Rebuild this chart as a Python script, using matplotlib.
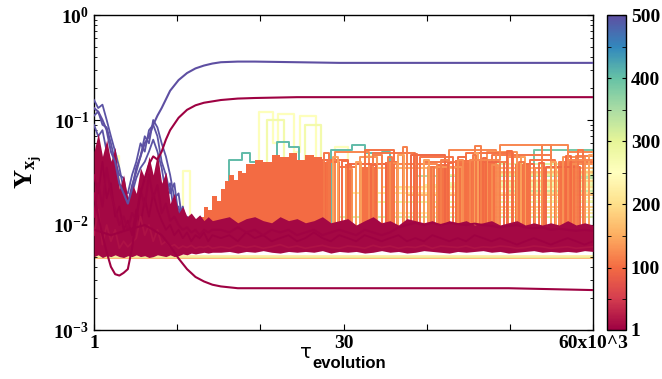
import numpy as np
import matplotlib
matplotlib.use("Agg")
import matplotlib.pyplot as plt
from matplotlib import colors as mcolors
from matplotlib import cm, ticker

plt.rcParams['font.family'] = 'Liberation Serif'
plt.rcParams['font.weight'] = 'bold'
plt.rcParams['mathtext.fontset'] = 'custom'
plt.rcParams['mathtext.rm'] = 'Liberation Serif:bold'
plt.rcParams['mathtext.it'] = 'Liberation Serif:bold'
plt.rcParams['mathtext.bf'] = 'Liberation Serif:bold'

# ---- data (y values in units of 1e-3 unless noted) ----
# dense crimson band, sampled every 0.5 up to 15 then every 1
band_top = [50, 75, 45, 65, 40, 55, 22, 30, 18, 25, 20, 35, 28, 45, 30,
            48, 25, 32, 16, 20, 13, 15, 12, 13, 11.5, 12.5, 11, 12, 11,
            11.5, 12, 10.5, 11.5, 12, 11, 10.5, 12, 11, 11.5,
            10.5, 11, 12, 10.5, 11, 11.5, 10, 11, 12, 10.5,
            11, 10, 11.5, 11, 10.5, 11, 10, 11, 10.5, 11,
            10, 10.5, 11, 10, 10.5, 11, 10, 10.5, 10, 10.5,
            10, 11, 10, 10.5, 10]
band_lo = [5.0, 5.2, 4.9, 5.1, 5.0, 5.2, 5.0, 4.9, 5.1, 5.0, 5.2, 5.0, 5.1, 4.9, 5.0,
           5.2, 5.1, 5.0, 5.2, 5.0, 5.1, 5.3, 5.2, 5.4, 5.3, 5.4, 5.5, 5.4, 5.5,
           5.5, 5.6, 5.4, 5.6, 5.5, 5.7, 5.5, 5.4, 5.6, 5.5,
           5.6, 5.5, 5.7, 5.4, 5.6, 5.5, 5.6, 5.4, 5.5, 5.7,
           5.5, 5.6, 5.4, 5.5, 5.7, 5.6, 5.5, 5.4, 5.6, 5.5,
           5.6, 5.7, 5.5, 5.6, 5.4, 5.5, 5.6, 5.7, 5.5, 5.6,
           5.5, 5.6, 5.5, 5.7, 5.6]
core1 = [30, 20, 40, 18, 25, 12, 15, 9, 11, 8, 14, 10, 18, 12, 20,
         14, 11, 9, 10, 8, 9, 7.5, 8.5, 7, 8, 7.5, 8.5, 7, 8,
         7.5, 8, 7, 8.5, 7.5, 8, 7, 7.5, 8, 7,
         7.5, 8.5, 7.5, 7, 8, 7.5, 7, 8, 7.5, 7,
         7.5, 8, 7, 7.5, 7, 8, 7.5, 7, 7.5, 7,
         8, 7.5, 7, 7.5, 7, 6.5, 7, 7.5, 7, 6.5,
         7, 7.5, 7, 6.5, 7]
core2 = [12, 25, 15, 35, 20, 14, 10, 12, 9, 13, 11, 22, 15, 30, 18,
         24, 13, 16, 11, 12, 10, 9, 9.5, 8.5, 9, 8, 9, 8.5, 9,
         9, 8.5, 9.5, 8.5, 9, 8, 9, 8.5, 9, 8,
         8.5, 9, 8, 8.5, 9, 8.5, 8, 9, 8.5, 8,
         8.5, 9.5, 10, 10.5, 10, 10.5, 10, 10.5, 10.2, 10,
         10.3, 10, 9.8, 9.5, 9.8, 10, 9.5, 9.3, 9.5, 9,
         9.2, 9, 8.8, 9, 8.8]
core3 = [8, 14, 6.5, 10, 7, 9, 6, 7, 6.2, 6.8, 7.5, 12, 8, 10, 7,
         9, 6.5, 7, 6.2, 6.5, 6, 6.3, 6.1, 6.4, 6, 6.2, 6.1, 6.3, 6,
         6.2, 6, 6.4, 6.1, 6.3, 6, 6.2, 6.5, 6.1, 6.3,
         6, 6.2, 6.4, 6.1, 6, 6.3, 6.2, 6, 6.4, 6.1,
         6.3, 6, 6.2, 6.1, 6.4, 6, 6.3, 6.2, 6.1, 6.3,
         6, 6.2, 6.1, 6.3, 6.2, 6, 6.1, 6.3, 6.2, 6,
         6.1, 6.2, 6, 6.1, 6.2]

# solid orange blocks (step tops)
ofill_x = [13, 13.5, 14, 14.5, 15, 15.5, 16, 16.5, 17, 17.5, 18, 18.5, 19,
           20, 21, 22, 23, 24, 25, 26, 27, 28, 29]
ofill_top = [10, 12, 15, 14, 19, 17, 22, 26, 30, 27, 33, 31, 38,
             42, 40, 46, 44, 48, 42, 46, 44, 40, 42]
ofill2_x = [29, 30.7, 31.5, 32.4, 34.2, 35.4, 36.6, 41.5, 43.1, 43.7, 45.4, 48.4,
            50.8, 52.5, 56.1, 57.9, 60]
ofill2_top = [8, 38, 8, 36, 8, 40, 8, 38, 8, 42, 40, 8, 38, 8, 40, 8, 8]

# orange switching trajectories: switch times and levels
orange_t = [
    [13, 28, 31, 36, 37, 44, 45, 52, 53, 60],
    [13, 30, 32, 34, 39, 40, 47, 48, 55, 56, 60],
    [13, 29.5, 33.5, 35, 41.5, 43, 48.5, 50, 51.5, 57, 60],
    [13, 31, 35.5, 38.5, 42.5, 46.5, 49.5, 54.5, 58.5, 60],
    [13, 32.5, 34.5, 40.5, 44.5, 47.5, 51, 56.5, 59, 60],
    [13, 28.5, 30, 33, 36.5, 39.5, 43.5, 45, 50.5, 52.5, 55.5, 60],
    [13, 34, 35, 37.5, 38, 42, 43, 46, 46.8, 49, 50, 54, 55, 58, 60],
    [13, 30.8, 31.5, 36, 36.8, 41, 41.6, 44, 44.6, 48, 48.8, 53.2, 54, 57.5, 60],
    [13, 29.2, 29.8, 32, 32.6, 37, 37.6, 40, 40.6, 46, 46.4, 51.5, 52, 55, 55.6, 59.5, 60],
    [13, 30.3, 31, 33.8, 34.4, 38.8, 39.2, 42.8, 43.4, 47, 47.4, 49.8, 50.4, 53.6, 54.2,
     56.8, 57.4, 60],
    [13, 28.2, 28.8, 35.8, 36.2, 40.8, 41.2, 45.8, 46.2, 51.2, 51.8, 58.2, 58.8, 60],
    [13, 45.5, 49, 57, 60],
]
orange_v = [
    [8, 42, 8, 40, 9, 44, 8, 38, 8, 8],
    [9, 36, 9, 48, 9, 40, 8, 46, 9, 40, 40],
    [8, 50, 8, 38, 8, 52, 9, 44, 8, 50, 50],
    [9, 38, 9, 46, 9, 40, 8, 36, 9, 9],
    [8, 44, 8, 36, 8, 50, 8, 44, 8, 8],
    [8, 40, 8, 52, 8, 44, 8, 48, 8, 42, 8, 8],
    [8, 46, 8, 55, 8, 42, 8, 56, 8, 40, 8, 58, 8, 45, 45],
    [9, 34, 9, 39, 9, 36, 9, 42, 9, 37, 9, 35, 9, 38, 38],
    [8, 44, 8, 40, 8, 46, 8, 42, 8, 48, 8, 44, 8, 40, 8, 46, 46],
    [9, 41, 9, 37, 9, 47, 9, 39, 9, 43, 9, 51, 9, 39, 9, 45, 9, 9],
    [8, 48, 8, 44, 8, 36, 8, 46, 8, 40, 8, 52, 8, 8],
    [8, 42, 58, 42, 42],
]
orange_c = [100, 110, 120, 95, 130, 105, 115, 125, 140, 100, 110, 120]

yellow_t = [[1, 3.2, 3.9, 11.5, 12.3, 20.5, 22.2, 22.8, 24.6, 25.4, 27.2, 28, 29.5, 31, 60],
            [1, 21.5, 23.5, 26, 27.8, 33, 34.5, 60]]
yellow_v = [[6, 45, 6, 33, 6, 120, 60, 115, 50, 110, 30, 8, 55, 8, 8],
            [6, 100, 20, 90, 8, 45, 8, 8]]
yellow_c = [255, 275]

teal_t = [[1, 17, 18.5, 19.5, 20.3, 22.6, 24, 25.2, 29, 31.5, 33, 35, 36, 60],
          [1, 53, 60]]
teal_v = [[6, 42, 48, 40, 8, 62, 55, 8, 52, 58, 48, 50, 8, 8],
          [6, 52, 52]]
teal_c = [405, 390]

# pale plateau lines on the right
light_level = [13, 15, 16.5, 18, 19.5, 21, 23, 25, 27, 29, 31, 33, 35, 38, 14, 17, 20, 24,
               28, 32, 12, 22, 26, 30]
light_start = [36, 41, 34, 45, 38, 50, 35, 43, 52, 39, 47, 55, 33, 48, 44, 53, 31, 40,
               57, 46, 30, 37, 49, 42]
light_val = [220, 180, 300, 250, 160, 330, 200, 280, 240, 350, 190, 260, 150, 310, 230,
             270, 210, 290, 340, 170, 320, 245, 185, 300]
bottom_level = [4.85, 5.0, 5.1]
bottom_val = [150, 300, 220]

# purple (high rank) trajectories, absolute values
purple_x = [1, 1.5, 2, 2.5, 3, 3.5, 4, 4.5, 5, 5.5, 6, 6.5, 7, 7.5, 8, 8.5, 9, 9.5,
            10, 10.5, 11, 11.5, 12, 12.5, 13]
purple_a = [0.155, 0.13, 0.14, 0.10, 0.07, 0.05, 0.035, 0.022, 0.02, 0.03, 0.04, 0.06, 0.05,
            0.08, 0.09, 0.07, 0.04, 0.03, 0.02, 0.025, 0.012, 0.015, 0.009, 0.01, 0.008]
purple_b = [0.11, 0.12, 0.09, 0.085, 0.06, 0.04, 0.03, 0.028, 0.016, 0.024, 0.032, 0.045, 0.07,
            0.06, 0.1, 0.085, 0.06, 0.045, 0.03, 0.018, 0.02, 0.01, 0.012, 0.008, 0.008]
purple_c = [0.09, 0.07, 0.08, 0.05, 0.04, 0.03, 0.018, 0.025, 0.014, 0.02, 0.028, 0.035, 0.04,
            0.05, 0.065, 0.05, 0.035, 0.02, 0.025, 0.012, 0.015, 0.009, 0.01, 0.008, 0.008]
pmain_x = [1, 1.5, 2, 2.5, 3, 3.5, 4, 4.5, 5, 5.5, 6, 6.5, 7, 7.5, 8, 8.5, 9, 10, 11, 12,
           13, 14, 15, 16, 18, 20, 25, 30, 40, 50, 60]
pmain_y = [0.13, 0.12, 0.10, 0.08, 0.05, 0.04, 0.025, 0.02, 0.016, 0.022, 0.035, 0.045, 0.06,
           0.07, 0.09, 0.11, 0.13, 0.19, 0.24, 0.28, 0.31, 0.33, 0.345, 0.355, 0.36, 0.36,
           0.355, 0.35, 0.35, 0.35, 0.35]

# crimson outliers
rup_x = [1, 1.5, 2, 2.5, 3, 3.5, 4, 4.5, 5, 5.5, 6, 6.5, 7, 7.5, 8, 8.5, 9, 9.5, 10, 11, 12,
         13, 14, 16, 18, 20, 25, 30, 40, 50, 60]
rup_y = [0.02, 0.012, 0.008, 0.0055, 0.004, 0.0034, 0.0033, 0.0035, 0.0038, 0.006, 0.012,
         0.02, 0.028, 0.038, 0.045, 0.042, 0.05, 0.065, 0.08, 0.105, 0.125, 0.138, 0.146,
         0.155, 0.16, 0.162, 0.165, 0.165, 0.165, 0.165, 0.165]
rdn_x = [1, 3, 5, 7, 8, 9, 10, 11, 12, 13, 14, 15, 16, 18, 20, 25, 30, 40, 50, 60]
rdn_y = [0.009, 0.008, 0.009, 0.01, 0.009, 0.008, 0.0063, 0.0048, 0.0038, 0.0032, 0.0029,
         0.0027, 0.0026, 0.0025, 0.0025, 0.0025, 0.0025, 0.0025, 0.0025, 0.0024]

xtick_labels = ['1', '', '', '30', '', '', '60x10^3']
ytick_labels = [r'$10^{-3}$', r'$10^{-2}$', r'$10^{-1}$', r'$10^{0}$']
cbar_ticks = [1, 100, 200, 300, 400, 500]

e3 = 1e-3
cmap = plt.get_cmap('Spectral')
norm = mcolors.Normalize(1, 500)


def col(v):
    return cmap(norm(v))


fig = plt.figure(figsize=(6.62, 3.79), dpi=100)
ax = fig.add_axes([94 / 662, 49 / 379, 499 / 662, 315 / 379])
cax = fig.add_axes([607 / 662, 49 / 379, 19 / 662, 315 / 379])

x_band = np.concatenate([np.arange(1, 15.5, 0.5), np.arange(16, 61)])

# pale lines underneath
ax.hlines(np.array(light_level) * e3, light_start, 60, colors=[col(v) for v in light_val],
          lw=1.3, zorder=1)
for lvl, v in zip(bottom_level, bottom_val):
    ax.plot([1, 60], [lvl * e3, lvl * e3], color=col(v), lw=1.2, zorder=1)

for t, v, c in zip(yellow_t, yellow_v, yellow_c):
    ax.plot(t, np.array(v) * e3, drawstyle='steps-post', color=col(c), lw=1.6, zorder=2)
for t, v, c in zip(teal_t, teal_v, teal_c):
    ax.plot(t, np.array(v) * e3, drawstyle='steps-post', color=col(c), lw=1.4, zorder=2)

# orange
ax.fill_between(ofill_x, 7 * e3, np.array(ofill_top) * e3, step='post',
                color=col(100), lw=0, zorder=3)
ax.fill_between(ofill2_x, 7 * e3, np.array(ofill2_top) * e3, step='post',
                color=col(105), lw=0, zorder=3)
for t, v, c in zip(orange_t, orange_v, orange_c):
    ax.plot(t, np.array(v) * e3, drawstyle='steps-post', color=col(c), lw=1.4, zorder=3)

# purple noisy ones sink under the crimson band
for py in (purple_a, purple_b, purple_c):
    ax.plot(purple_x, py, color=col(495), lw=1.3, zorder=3.5)

# crimson band
ax.fill_between(x_band, np.array(band_lo) * e3, np.array(band_top) * e3,
                color=col(8), lw=0, zorder=4)
ax.plot(x_band, np.array(core1) * e3, color=col(1), lw=1.3, zorder=4)
ax.plot(x_band, np.array(core2) * e3, color=col(3), lw=1.5, zorder=4)
ax.plot(x_band, np.array(core3) * e3, color=col(15), lw=1.3, zorder=4)

ax.plot(pmain_x, pmain_y, color=col(500), lw=1.5, zorder=6)

# crimson outliers
ax.plot(rup_x, rup_y, color=col(1), lw=1.5, zorder=6)
ax.plot(rdn_x, rdn_y, color=col(1), lw=1.5, zorder=6)

ax.set_yscale('log')
ax.set_ylim(1e-3, 1)
ax.set_xlim(1, 60)
ax.set_xticks(np.linspace(1, 60, 7))
ax.set_xticklabels(xtick_labels)
ax.set_yticks([1e-3, 1e-2, 1e-1, 1])
ax.set_yticklabels(ytick_labels)
ax.yaxis.set_minor_locator(ticker.LogLocator(base=10, subs=np.arange(2, 10)))
ax.yaxis.set_minor_formatter(ticker.NullFormatter())
ax.tick_params(which='both', direction='in', top=True, right=True, labelsize=14)
ax.tick_params(which='major', length=4)
ax.tick_params(which='minor', length=2.5)
for s in ax.spines.values():
    s.set_linewidth(1.0)

ax.set_ylabel(r'$Y_{x_j}$', fontsize=19, labelpad=7)
fig.text(306 / 662, 1 - 353 / 379, '\u03c4', fontsize=14, family='DejaVu Sans',
         weight='normal', ha='center', va='center')
fig.text(312 / 662, 1 - 368 / 379, 'evolution', fontsize=12, family='Liberation Sans',
         weight='bold', ha='left', va='baseline')

sm = cm.ScalarMappable(norm=norm, cmap=cmap)
cb = fig.colorbar(sm, cax=cax)
cb.set_ticks(cbar_ticks)
cb.set_ticklabels([str(t) for t in cbar_ticks])
cax.yaxis.set_minor_locator(ticker.FixedLocator([50, 150, 250, 350, 450]))
cax.tick_params(which='both', direction='in', left=True, right=True, labelsize=14, length=3)
cb.outline.set_linewidth(1.0)

fig.savefig('out.png', dpi=100)
